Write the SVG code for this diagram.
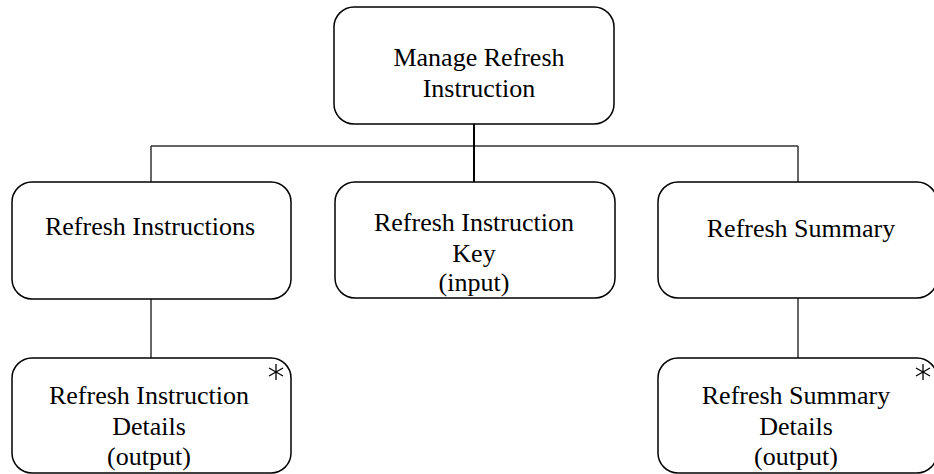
<svg xmlns="http://www.w3.org/2000/svg" width="934" height="474" viewBox="0 0 934 474">
<style>
.box{fill:#fff;stroke:#000;stroke-width:1.5}
.t{font-family:"Liberation Serif","Times New Roman",serif;font-size:26px;fill:#000;text-anchor:middle}
.c{stroke:#333;stroke-width:1.5;fill:none}
.ast{stroke:#000;stroke-width:1.3}
</style>
<rect width="934" height="474" fill="#fff"/>
<g id="connectors">
<line class="c" x1="151" y1="146" x2="798" y2="146"/>
<line x1="474" y1="124" x2="474" y2="183" stroke="#000" stroke-width="2"/>
<line class="c" x1="151" y1="146" x2="151" y2="182"/>
<line class="c" x1="798" y1="146" x2="798" y2="182"/>
<line class="c" x1="151" y1="299" x2="151" y2="358"/>
<line class="c" x1="798" y1="298" x2="798" y2="358"/>
</g>
<g id="manage">
<rect class="box" x="334" y="7" width="280" height="117" rx="20"/>
<text class="t" x="479" y="66">Manage Refresh</text>
<text class="t" x="479" y="97">Instruction</text>
</g>
<g id="instructions">
<rect class="box" x="12" y="182" width="279" height="117" rx="20"/>
<text class="t" x="150" y="235">Refresh Instructions</text>
</g>
<g id="key">
<rect class="box" x="335" y="182" width="280" height="116" rx="20"/>
<text class="t" x="474" y="231">Refresh Instruction</text>
<text class="t" x="474" y="262">Key</text>
<text class="t" x="474" y="291">(input)</text>
</g>
<g id="summary">
<rect class="box" x="658" y="182" width="279" height="116" rx="20"/>
<text class="t" x="801" y="237">Refresh Summary</text>
</g>
<g id="instr-details">
<rect class="box" x="12" y="358" width="279" height="115" rx="20"/>
<text class="t" x="149" y="404">Refresh Instruction</text>
<text class="t" x="149" y="435">Details</text>
<text class="t" x="149" y="465">(output)</text>
<g class="ast">
<line x1="276" y1="364" x2="276" y2="380"/>
<line x1="269" y1="368" x2="283" y2="376"/>
<line x1="269" y1="376" x2="283" y2="368"/>
</g>
</g>
<g id="summary-details">
<rect class="box" x="658" y="358" width="279" height="115" rx="20"/>
<text class="t" x="796" y="404">Refresh Summary</text>
<text class="t" x="796" y="435">Details</text>
<text class="t" x="796" y="465">(output)</text>
<g class="ast">
<line x1="923" y1="364" x2="923" y2="380"/>
<line x1="916" y1="368" x2="930" y2="376"/>
<line x1="916" y1="376" x2="930" y2="368"/>
</g>
</g>
</svg>
